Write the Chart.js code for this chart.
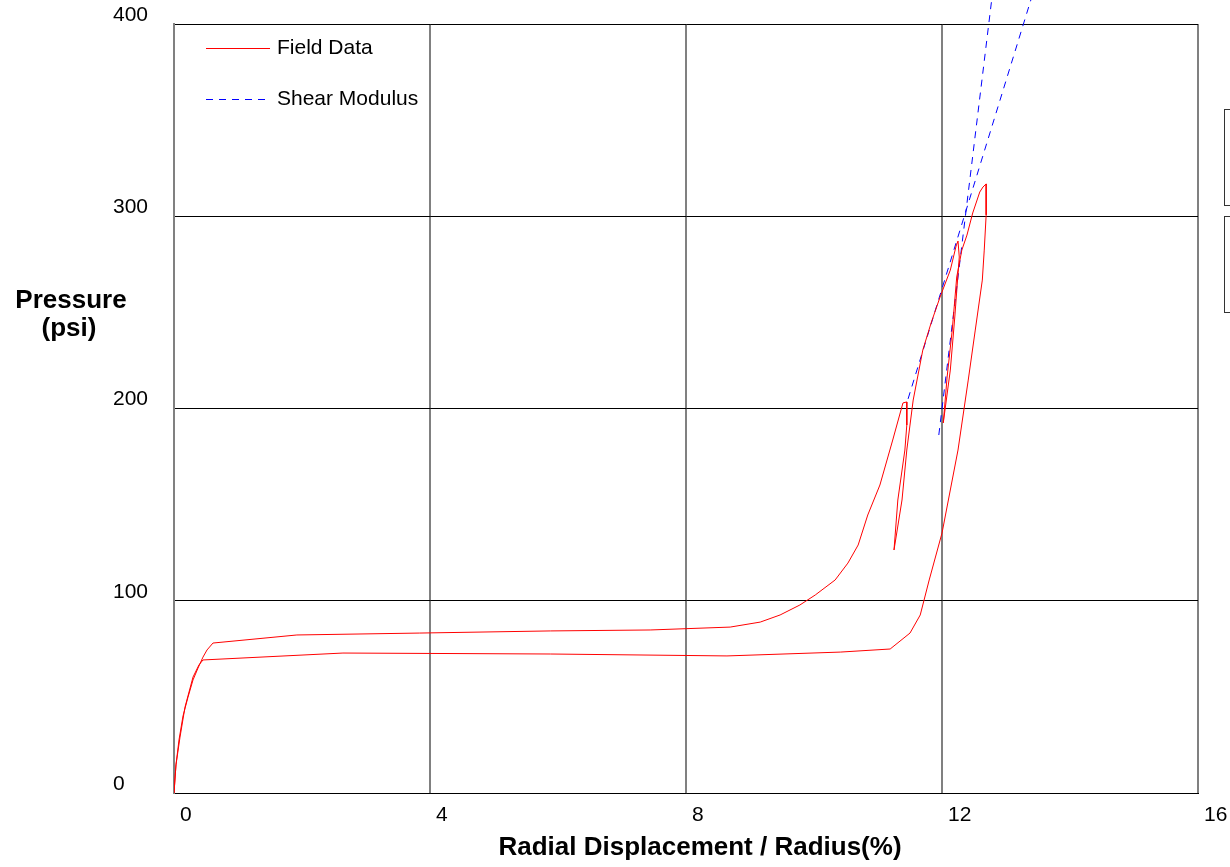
<!DOCTYPE html>
<html lang="en">
<head>
<meta charset="UTF-8">
<title>Pressure vs Radial Displacement</title>
<script src="https://cdn.jsdelivr.net/npm/chart.js"></script>
<style>
  html, body { margin: 0; padding: 0; background: #fff; }
  #wrap { width: 1230px; height: 867px; }
</style>
</head>
<body>
<div id="wrap"><canvas id="myChart" width="1230" height="867"></canvas></div>

<script>
    // field data: loading, three unload/reload loops, final unloading
    const fieldX = [0, 0.031, 0.078, 0.141, 0.219, 0.297, 0.375, 0.453, 0.516, 0.609,
        1.92, 3.84, 5.88, 7.44, 8.69, 9.16, 9.47, 9.78, 10.02, 10.33, 10.53, 10.69, 10.84,
        11.03, 11.23, 11.39, 11.45,
        11.45, 11.42, 11.31, 11.25,
        11.375, 11.45, 11.55, 11.70, 11.83, 11.97, 12.13, 12.22, 12.25,
        12.27, 12.20, 12.13, 12.02,
        12.08, 12.16, 12.23, 12.31, 12.39, 12.48, 12.59, 12.64, 12.69,
        12.69, 12.66, 12.63, 12.52, 12.41, 12.25, 12.00, 11.80, 11.66, 11.50, 11.19,
        10.41, 8.64, 5.88, 2.64, 0.453, 0.39, 0.297, 0.172, 0.094, 0.031, 0];
    const fieldY = [0, 14.6, 27.6, 40.1, 49.9, 58.8, 65.0, 70.7, 74.4, 78.0,
        82.2, 83.2, 84.3, 84.8, 86.3, 88.9, 92.6, 97.8, 103.0, 110.8, 119.6, 129.0, 144.6,
        160.2, 183.6, 202.9, 203.4,
        191.4, 178.4, 152.4, 126.4,
        152.4, 178.4, 204.4, 230.4, 244.5, 258.0, 272.0, 284.5, 287.1,
        278.8, 247.6, 220.0, 192.5,
        216.4, 240.8, 268.4, 282.4, 290.2, 301.7, 312.6, 315.2, 316.8,
        300.7, 282.4, 266.8, 240.8, 214.8, 178.4, 135.2, 110.8, 92.6, 83.2, 74.9,
        73.3, 71.3, 72.3, 72.8, 69.2, 66.6, 60.3, 44.7, 29.1, 14.6, 0];

    // shear modulus lines (two of them)
    const shearAX = [11.47, 13.55];
    const shearAY = [205.0, 430];
    const shearBX = [11.95, 12.84];
    const shearBY = [186.2, 430];

    const xTicks = [0, 4, 8, 12, 16];
    const yTicks = [0, 100, 200, 300, 400];

    const FONT = '"Liberation Sans", Arial, Helvetica, sans-serif';

    function pts(xs, ys) {
        return xs.map((x, i) => ({ x: x, y: ys[i] }));
    }

    // titles, legend and the cut boxes on the right
    const extras = {
        id: 'extras',
        afterDraw(chart) {
            const ctx = chart.ctx;
            ctx.save();
            ctx.fillStyle = '#000';
            ctx.font = 'bold 26px ' + FONT;
            ctx.textAlign = 'center';
            ctx.textBaseline = 'middle';
            ctx.fillText('Pressure', 71, 301);
            ctx.fillText('(psi)', 69, 329);
            ctx.fillText('Radial Displacement / Radius(%)', 700, 848);

            // legend
            const seen = [];
            let row = 0;
            chart.data.datasets.forEach(ds => {
                if (seen.includes(ds.label)) return;
                seen.push(ds.label);
                const y = 48.5 + row * 51;
                ctx.beginPath();
                ctx.setLineDash(ds.borderDash || []);
                ctx.strokeStyle = ds.borderColor;
                ctx.lineWidth = 1;
                ctx.moveTo(206, y);
                ctx.lineTo(270, y);
                ctx.stroke();
                ctx.setLineDash([]);
                ctx.font = '21px ' + FONT;
                ctx.textAlign = 'left';
                ctx.fillStyle = '#000';
                ctx.fillText(ds.label, 277, y);
                row++;
            });

            ctx.strokeStyle = '#333';
            ctx.lineWidth = 1;
            ctx.strokeRect(1224.5, 109.5, 40, 96);
            ctx.strokeRect(1224.5, 216.5, 40, 96);
            ctx.restore();
        }
    };

    const config = {
        type: 'scatter',
        data: {
            datasets: [
                {
                    label: 'Field Data',
                    data: pts(fieldX, fieldY),
                    showLine: true,
                    borderColor: '#ff0000',
                    borderWidth: 1,
                    pointRadius: 0,
                    tension: 0
                },
                {
                    label: 'Shear Modulus',
                    data: pts(shearAX, shearAY),
                    showLine: true,
                    borderColor: '#0000ff',
                    borderWidth: 1,
                    borderDash: [7, 6],
                    pointRadius: 0,
                    clip: false
                },
                {
                    label: 'Shear Modulus',
                    data: pts(shearBX, shearBY),
                    showLine: true,
                    borderColor: '#0000ff',
                    borderWidth: 1,
                    borderDash: [7, 6],
                    pointRadius: 0,
                    clip: false
                }
            ]
        },
        options: {
            responsive: false,
            animation: false,
            devicePixelRatio: 1,
            layout: { padding: { top: 24, right: 32, left: 113, bottom: 0 } },
            plugins: {
                legend: { display: false },
                tooltip: { enabled: false }
            },
            scales: {
                x: {
                    type: 'linear',
                    min: 0,
                    max: 16,
                    afterBuildTicks: s => { s.ticks = xTicks.map(v => ({ value: v })); },
                    afterFit: s => { s.height = 74; s.paddingLeft = 0; s.paddingRight = 0; },
                    grid: { color: '#808080', lineWidth: 2, drawTicks: false },
                    border: { color: '#000', width: 1 },
                    ticks: {
                        align: 'start',
                        labelOffset: 6,
                        padding: 10,
                        maxRotation: 0,
                        autoSkip: false,
                        color: '#000',
                        font: { family: FONT, size: 21 }
                    }
                },
                y: {
                    type: 'linear',
                    min: 0,
                    max: 400,
                    afterBuildTicks: s => { s.ticks = yTicks.map(v => ({ value: v })); },
                    afterFit: s => { s.width = 61; s.paddingTop = 0; s.paddingBottom = 0; },
                    grid: { color: '#000', lineWidth: 1, drawTicks: false },
                    border: { color: '#808080', width: 2 },
                    ticks: {
                        crossAlign: 'far',
                        padding: 10,
                        labelOffset: -9,
                        autoSkip: false,
                        color: '#000',
                        font: { family: FONT, size: 21 }
                    }
                }
            }
        },
        plugins: [extras]
    };

    const myChart = new Chart(document.getElementById('myChart'), config);
</script>
</body>
</html>
